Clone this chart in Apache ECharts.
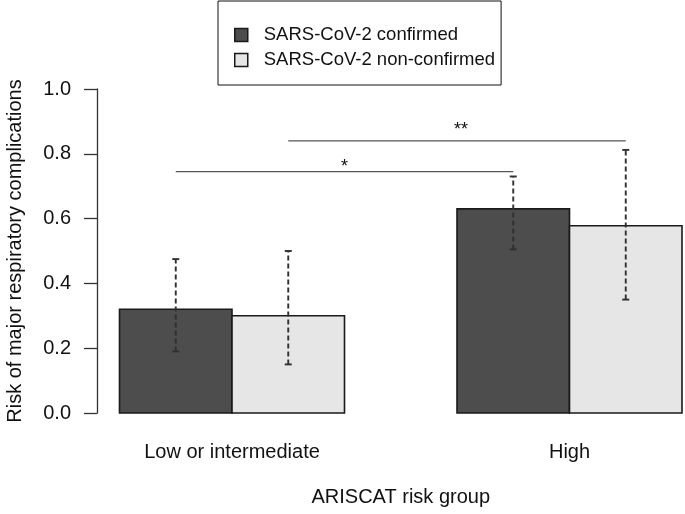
<!DOCTYPE html>
<html>
<head>
<meta charset="utf-8">
<script src="https://cdn.jsdelivr.net/npm/echarts@6/dist/echarts.min.js"></script>
<style>html,body{margin:0;padding:0;background:#fff}#c{width:685px;height:514px}</style>
</head>
<body>
<div id="c"></div>
<script>
// ---- data ----
const categories = ['Low or intermediate', 'High'];
const seriesNames = ['SARS-CoV-2 confirmed', 'SARS-CoV-2 non-confirmed'];
const confirmedRisk = [0.32, 0.63];
const confirmedLow = [0.19, 0.505];
const confirmedHigh = [0.475, 0.73];
const nonConfirmedRisk = [0.30, 0.578];
const nonConfirmedLow = [0.15, 0.35];
const nonConfirmedHigh = [0.50, 0.812];
const sigSeries = [0, 1];          // which series is compared across groups
const sigHeights = [0.745, 0.84];
const sigLabelHeights = [0.772, 0.886];
const sigLabels = ['*', '**'];
const yTicks = [0.0, 0.2, 0.4, 0.6, 0.8, 1.0];

// ---- styling / layout ----
const FONT = 'Liberation Sans, Arial, sans-serif';
const BAR = 1 / 3; // bar width in x-axis units
const fills = ['#4d4d4d', '#e6e6e6'];
const INK = '#1a1a1a';
const TXT = '#111';

function barData(vals, lo, hi) {
  return vals.map((v, i) => [i + 1, v, lo[i], hi[i]]);
}

function barRenderer(sIdx) {
  return function (params, api) {
    const g = api.value(0), v = api.value(1), lo = api.value(2), hi = api.value(3);
    const x0 = g + (sIdx === 0 ? -BAR : 0);
    const p0 = api.coord([x0, v]);
    const p1 = api.coord([x0 + BAR, 0]);
    const xc = api.coord([x0 + BAR / 2, 0])[0];
    const yLo = api.coord([g, lo])[1];
    const yHi = api.coord([g, hi])[1];
    return {
      type: 'group',
      children: [
        { type: 'rect', shape: { x: p0[0], y: p0[1], width: p1[0] - p0[0], height: p1[1] - p0[1] },
          style: { fill: fills[sIdx], stroke: INK, lineWidth: 1.6 } },
        { type: 'line', shape: { x1: xc, y1: yLo, x2: xc, y2: yHi },
          style: { stroke: '#303030', lineWidth: 1.9, lineDash: [5, 3] } },
        { type: 'line', shape: { x1: xc - 3.5, y1: yLo, x2: xc + 3.5, y2: yLo },
          style: { stroke: '#303030', lineWidth: 1.9 } },
        { type: 'line', shape: { x1: xc - 3.5, y1: yHi, x2: xc + 3.5, y2: yHi },
          style: { stroke: '#303030', lineWidth: 1.9 } }
      ]
    };
  };
}

const sigData = sigSeries.map((s, i) => {
  const off = s === 0 ? -BAR / 2 : BAR / 2;
  return [1 + off, 2 + off, sigHeights[i], sigLabelHeights[i], i];
});

const chart = echarts.init(document.getElementById('c'), null, { renderer: 'canvas' });
chart.setOption({
  animation: false,
  backgroundColor: '#fff',
  textStyle: { fontFamily: FONT },
  legend: {
    orient: 'vertical',
    left: 218, top: 1,
    padding: [24, 6, 15, 16],
    itemGap: 5,
    itemWidth: 13, itemHeight: 13,
    borderColor: '#111', borderWidth: 1,
    icon: 'rect',
    textStyle: { fontFamily: FONT, fontSize: 18.5, color: TXT, lineHeight: 20, padding: [0, 0, 0, 11] },
    data: seriesNames.map((n, i) => ({ name: n, itemStyle: { color: fills[i], borderColor: INK, borderWidth: 1.5 } }))
  },
  grid: { left: 97, top: 89, width: 607.5, bottom: 101, outerBoundsMode: 'none', containLabel: false },
  xAxis: {
    type: 'value', min: 0.6, max: 2.4, interval: 0.2,
    axisLine: { show: false }, axisTick: { show: false }, splitLine: { show: false },
    axisLabel: {
      margin: 29, fontSize: 20, color: TXT, fontFamily: FONT,
      formatter: function (v) {
        const r = Math.round(v);
        if (Math.abs(v - r) < 1e-6 && r >= 1 && r <= categories.length) return categories[r - 1];
        return '';
      }
    },
    name: 'ARISCAT risk group', nameLocation: 'middle', nameGap: 74,
    nameTextStyle: { fontSize: 20, color: TXT, fontFamily: FONT }
  },
  yAxis: {
    type: 'value', min: yTicks[0], max: yTicks[yTicks.length - 1], interval: 0.2,
    axisLine: { show: true, lineStyle: { color: '#333', width: 1.3 } },
    axisTick: { show: true, length: 13, lineStyle: { color: '#333', width: 1.3 } },
    splitLine: { show: false },
    axisLabel: { margin: 26, fontSize: 20, color: TXT, fontFamily: FONT,
      formatter: v => v.toFixed(1) },
    name: 'Risk of major respiratory complications', nameLocation: 'middle', nameGap: 72,
    nameTextStyle: { fontSize: 20, color: TXT, fontFamily: FONT }
  },
  series: [
    { name: seriesNames[0], type: 'custom', renderItem: barRenderer(0),
      itemStyle: { color: fills[0], borderColor: INK },
      encode: { x: 0, y: 1 }, data: barData(confirmedRisk, confirmedLow, confirmedHigh) },
    { name: seriesNames[1], type: 'custom', renderItem: barRenderer(1),
      itemStyle: { color: fills[1], borderColor: INK },
      encode: { x: 0, y: 1 }, data: barData(nonConfirmedRisk, nonConfirmedLow, nonConfirmedHigh) },
    { name: 'sig', type: 'custom', encode: { x: 0, y: 2 }, data: sigData,
      renderItem: function (params, api) {
        const a = api.coord([api.value(0), api.value(2)]);
        const b = api.coord([api.value(1), api.value(2)]);
        const t = api.coord([(api.value(0) + api.value(1)) / 2, api.value(3)]);
        const idx = api.value(4);
        return { type: 'group', children: [
          { type: 'line', shape: { x1: a[0], y1: a[1], x2: b[0], y2: b[1] },
            style: { stroke: '#555', lineWidth: 1.4 } },
          { type: 'text', x: t[0] + (idx === 1 ? 4 : 0), y: t[1] + 4,
            style: { text: sigLabels[idx], fontSize: 18, fontFamily: FONT, fill: TXT,
              align: 'center', verticalAlign: 'middle', letterSpacing: idx === 1 ? 6 : 0 } }
        ] };
      } }
  ]
});
</script>
</body>
</html>
